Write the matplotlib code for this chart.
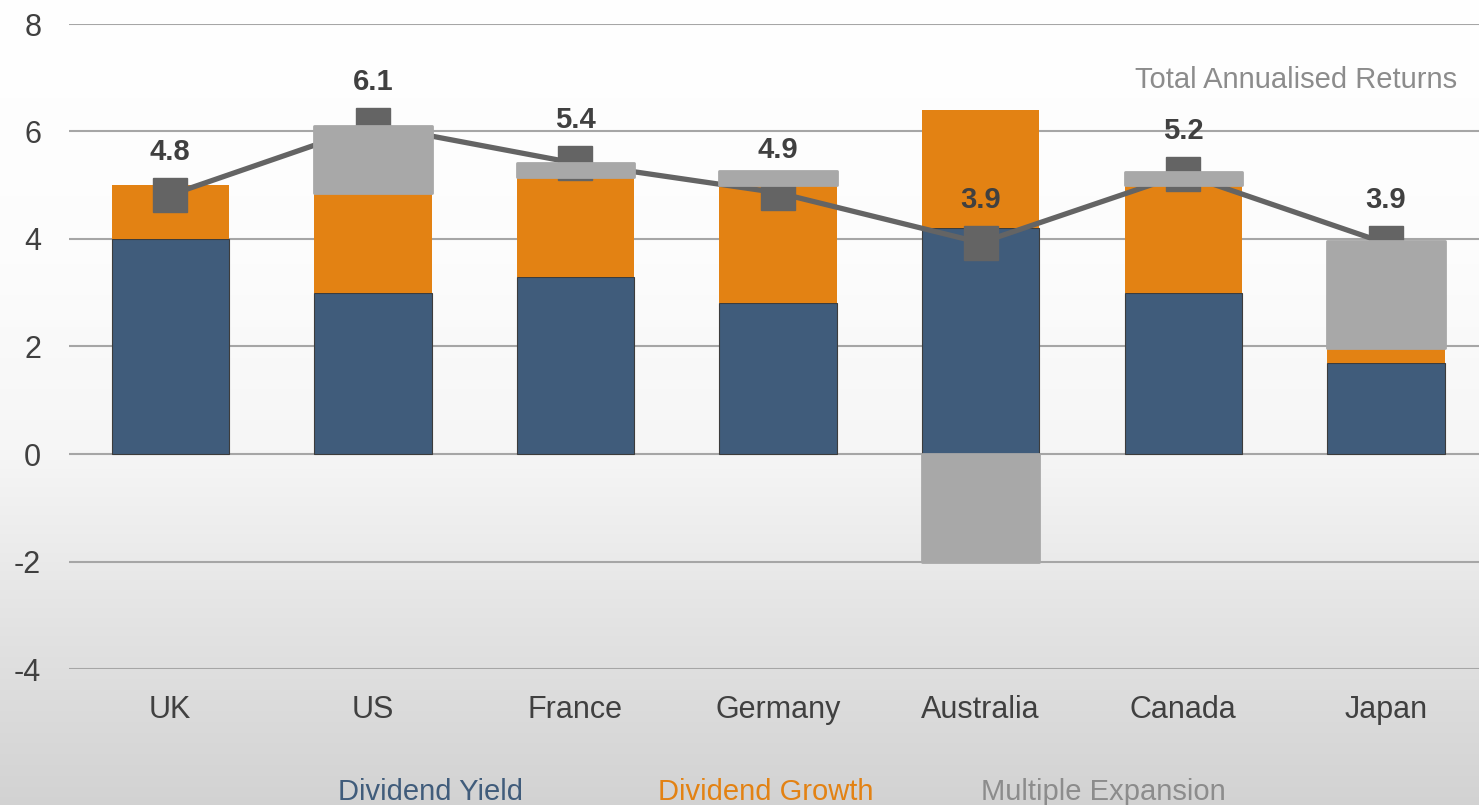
import numpy as np
import matplotlib
matplotlib.use("Agg")
import matplotlib.pyplot as plt

plt.rcParams['font.family'] = ['Liberation Sans', 'DejaVu Sans']

countries = ["UK", "US", "France", "Germany", "Australia", "Canada", "Japan"]
dividend_yield = [4.0, 3.0, 3.3, 2.8, 4.2, 3.0, 1.7]
dividend_growth = [1.0, 1.85, 1.85, 2.2, 2.2, 2.0, 0.27]
multiple_expansion = [0.0, 1.25, 0.27, 0.27, -2.0, 0.24, 2.0]
total_returns = [4.82, 6.12, 5.41, 4.86, 3.93, 5.21, 3.92]
y_ticks = [-4, -2, 0, 2, 4, 6, 8]

W, H = 1479, 805
fig = plt.figure(figsize=(W / 100, H / 100), dpi=100)

# background gradient
bg = fig.add_axes([0, 0, 1, 1], zorder=-10)
ys = np.linspace(0, H, 400)
stops_y = [0, 250, 450, 640, 805]
stops_v = [1.0, 0.99, 0.965, 0.885, 0.825]
vals = np.interp(ys, stops_y, stops_v)
img = np.repeat(vals[:, None], 2, axis=1)
bg.imshow(np.dstack([img, img, img]), aspect='auto', extent=[0, 1, 0, 1], origin='upper')
bg.axis('off')

left = 69 / W
top = 1 - 24 / H
bottom = 1 - 669 / H
ax = fig.add_axes([left, bottom, 1 - left, top - bottom])
ax.patch.set_alpha(0)

x = np.arange(len(countries))
bw = 0.58
dy = np.array(dividend_yield)
dg = np.array(dividend_growth)
me = np.array(multiple_expansion)

ax.bar(x, dy, bw, color='#405C7B', edgecolor='#3c3c3c', linewidth=0.8, zorder=2)
ax.bar(x, dg, bw, bottom=dy, color='#E38213', linewidth=0, zorder=2)
me_bottom = np.where(me >= 0, dy + dg, 0)
gbars = ax.bar(x, me, bw, bottom=me_bottom, color='#A8A8A8', edgecolor='#A8A8A8',
               linewidth=2, zorder=4)
for p, v in zip(gbars, me):
    p.set_joinstyle('round')
    if v == 0:
        p.set_visible(False)

ax.plot(x, total_returns, color='#646464', lw=3.8, marker='s', markersize=24,
        markerfacecolor='#646464', markeredgecolor='#646464', zorder=3)
for xi, v in zip(x, total_returns):
    ax.annotate(f"{v:.1f}", (xi, v), xytext=(0, 31), textcoords='offset points',
                ha='center', va='center', fontsize=21, fontweight='bold',
                color='#404040', zorder=6)

ax.set_xlim(-0.5, -0.5 + (W - 69) / 202.6)
ax.set_ylim(-4, 8)
ax.set_yticks(y_ticks)
ax.set_yticklabels([str(t) for t in y_ticks])
ax.set_xticks(x)
ax.set_xticklabels(countries)
ax.tick_params(axis='both', length=0, labelsize=22, colors='#404040')
ax.tick_params(axis='y', pad=20)
ax.tick_params(axis='x', pad=19)
for lab in ax.get_yticklabels():
    lab.set_horizontalalignment('right')
ax.grid(axis='y', color='#A6A6A6', lw=1.5, zorder=0)
ax.set_axisbelow(True)
for s in ax.spines.values():
    s.set_visible(False)

fig.text(1457 / W, 1 - 80 / H, "Total Annualised Returns", ha='right', va='center',
         fontsize=21, color='#8C8C8C')

legend_items = [("Dividend Yield", '#405C7B', 431), ("Dividend Growth", '#E38213', 766),
                ("Multiple Expansion", '#8C8C8C', 1103)]
for txt, col, cx in legend_items:
    fig.text(cx / W, 1 - 792 / H, txt, ha='center', va='center', fontsize=21, color=col)

fig.savefig("out.png", dpi=100)
